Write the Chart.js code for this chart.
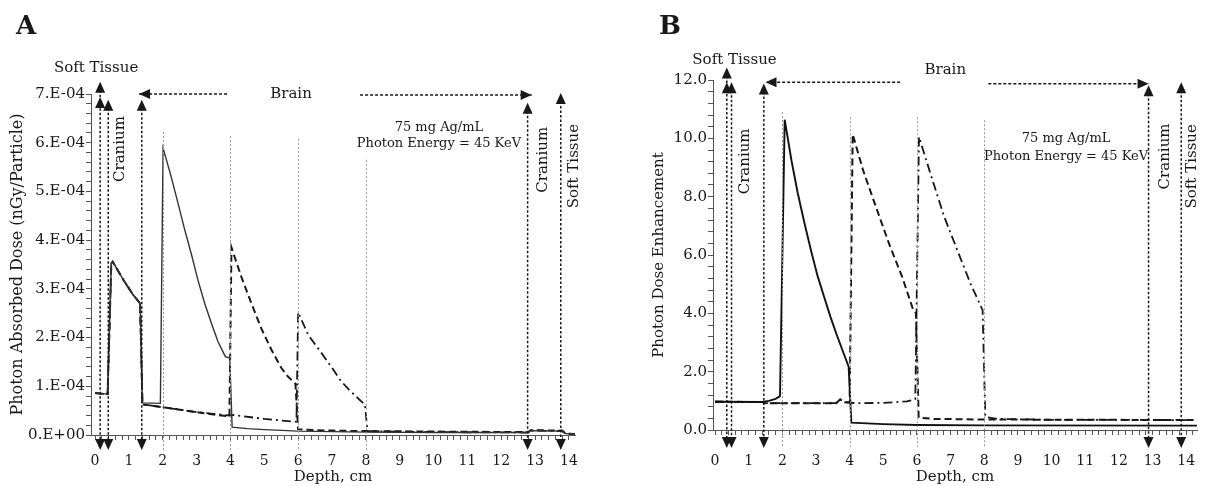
<!DOCTYPE html>
<html>
<head>
<meta charset="utf-8">
<script src="https://cdn.jsdelivr.net/npm/chart.js@4.4.1/dist/chart.umd.min.js"></script>
<style>
  html, body { margin: 0; padding: 0; background: #fff; }
  #wrap { position: relative; width: 1211px; height: 486px; overflow: hidden; }
  .panel { position: absolute; top: 0; height: 486px; }
  #panelA { left: 0; width: 605px; }
  #panelB { left: 605px; width: 606px; }
  .tag { position: absolute; top: 12px; font: bold 26px 'DejaVu Serif', serif; line-height: 26px; color: #1a1718; }
</style>
</head>
<body>
<div id="wrap">
  <div class="panel" id="panelA"><canvas id="chartA"></canvas></div>
  <div class="panel" id="panelB"><canvas id="chartB"></canvas></div>
  <div class="tag" style="left:16px">A</div>
  <div class="tag" style="left:659px">B</div>
</div>
<script>
/* Depth profiles of photon dose through a head phantom
   (soft tissue / cranium / brain), Ag nanoparticle slab at 2-4, 4-6 or 6-8 cm. */

// ---- Panel A: absorbed dose (nGy/particle) ----
const depthA_np24 = [0, 0.37, 0.48, 0.52, 0.84, 1.13, 1.31, 1.33, 1.40, 1.93, 2.01, 2.25, 2.45, 2.65, 2.85, 3.04, 3.24, 3.44, 3.63, 3.85, 3.98, 4.05, 4.5, 5.0, 6.0, 7.0, 8.0, 10.0, 12.8, 12.88, 13.8, 13.9, 14.2];
const doseA_np24  = [0.86e-4, 0.84e-4, 3.52e-4, 3.56e-4, 3.18e-4, 2.87e-4, 2.72e-4, 2.68e-4, 0.66e-4, 0.65e-4, 5.89e-4, 5.30e-4, 4.76e-4, 4.21e-4, 3.70e-4, 3.18e-4, 2.70e-4, 2.29e-4, 1.92e-4, 1.61e-4, 1.58e-4, 0.16e-4, 0.13e-4, 0.11e-4, 0.08e-4, 0.07e-4, 0.06e-4, 0.05e-4, 0.05e-4, 0.09e-4, 0.08e-4, 0.03e-4, 0.02e-4];

const depthA_np46 = [0, 0.37, 0.48, 0.52, 0.84, 1.13, 1.31, 1.33, 1.40, 2.0, 2.5, 3.0, 3.5, 3.97, 4.03, 4.32, 4.62, 4.91, 5.21, 5.50, 5.70, 5.92, 6.0, 6.5, 7.0, 8.0, 10.0, 12.8, 12.88, 13.8, 13.9, 14.2];
const doseA_np46  = [0.86e-4, 0.84e-4, 3.52e-4, 3.56e-4, 3.18e-4, 2.87e-4, 2.72e-4, 2.68e-4, 0.63e-4, 0.57e-4, 0.52e-4, 0.47e-4, 0.42e-4, 0.38e-4, 3.85e-4, 3.25e-4, 2.70e-4, 2.19e-4, 1.75e-4, 1.38e-4, 1.20e-4, 1.05e-4, 0.12e-4, 0.10e-4, 0.09e-4, 0.08e-4, 0.07e-4, 0.06e-4, 0.10e-4, 0.09e-4, 0.03e-4, 0.02e-4];

const depthA_np68 = [0, 0.37, 0.48, 0.52, 0.84, 1.13, 1.31, 1.33, 1.40, 2.0, 3.0, 3.97, 4.1, 5.0, 5.95, 6.0, 6.3, 6.65, 7.0, 7.24, 7.5, 7.88, 7.97, 8.05, 9.0, 10.0, 12.8, 12.88, 13.8, 13.9, 14.2];
const doseA_np68  = [0.86e-4, 0.84e-4, 3.52e-4, 3.56e-4, 3.18e-4, 2.87e-4, 2.72e-4, 2.68e-4, 0.63e-4, 0.57e-4, 0.47e-4, 0.40e-4, 0.41e-4, 0.33e-4, 0.27e-4, 2.52e-4, 2.05e-4, 1.72e-4, 1.38e-4, 1.13e-4, 0.93e-4, 0.68e-4, 0.64e-4, 0.08e-4, 0.07e-4, 0.06e-4, 0.05e-4, 0.09e-4, 0.08e-4, 0.03e-4, 0.02e-4];

// ---- Panel B: dose enhancement ----
const depthB_np24 = [0, 1.40, 1.60, 1.80, 1.93, 2.07, 2.27, 2.46, 2.66, 2.85, 3.04, 3.24, 3.43, 3.62, 3.82, 3.97, 4.05, 5.0, 6.0, 8.0, 14.4];
const enhB_np24   = [0.97, 0.96, 1.00, 1.07, 1.16, 10.64, 9.25, 8.11, 7.08, 6.16, 5.31, 4.57, 3.88, 3.25, 2.63, 2.17, 0.25, 0.20, 0.17, 0.16, 0.15];

const depthB_np46 = [0, 1.40, 1.50, 3.60, 3.72, 3.85, 4.00, 4.09, 4.40, 4.78, 5.17, 5.56, 5.89, 5.97, 6.05, 6.50, 8.0, 14.4];
const enhB_np46   = [0.97, 0.96, 0.92, 0.92, 1.05, 0.95, 0.95, 10.14, 8.90, 7.65, 6.39, 5.25, 4.11, 4.00, 0.42, 0.38, 0.36, 0.34];

const depthB_np68 = [0, 1.40, 1.50, 3.60, 3.72, 3.85, 4.20, 5.00, 5.70, 5.95, 6.06, 6.43, 6.81, 7.20, 7.59, 7.95, 8.03, 8.40, 10.0, 14.4];
const enhB_np68   = [0.97, 0.96, 0.92, 0.92, 1.05, 0.95, 0.92, 0.93, 0.98, 1.05, 10.05, 8.68, 7.31, 6.16, 5.02, 4.11, 0.45, 0.38, 0.35, 0.34];

// ---- Annotations (axis units) ----
const guideDepths = [2, 4, 6, 8];
const guideTopsA  = [6.22e-4, 6.14e-4, 6.08e-4, 5.65e-4];
const guideTopsB  = [10.9, 10.72, 10.72, 10.62];

const boundsA = [
  { x: 0.15, tops: [7.25e-4, 6.94e-4] },
  { x: 0.39, tops: [6.88e-4] },
  { x: 1.38, tops: [6.88e-4] },
  { x: 12.78, tops: [6.82e-4] },
  { x: 13.76, tops: [7.02e-4] },
];
const boundsB = [
  { x: 0.35, tops: [12.43, 11.92] },
  { x: 0.49, tops: [11.92] },
  { x: 1.45, tops: [11.88] },
  { x: 12.88, tops: [11.82] },
  { x: 13.85, tops: [11.92] },
];

const labelsA = [
  { t: 'Soft Tissue', x: 0.03, y: 7.54e-4 },
  { t: 'Cranium', x: 0.74, y: 5.87e-4, rot: true },
  { t: 'Brain', x: 5.79, y: 7.0e-4 },
  { t: 'Cranium', x: 13.23, y: 5.65e-4, rot: true },
  { t: 'Soft Tissue', x: 14.15, y: 5.52e-4, rot: true },
  { t: '75 mg Ag/mL', x: 10.16, y: 6.32e-4, small: true },
  { t: 'Photon Energy = 45 KeV', x: 10.16, y: 5.98e-4, small: true },
];
const labelsB = [
  { t: 'Soft Tissue', x: 0.58, y: 12.67 },
  { t: 'Cranium', x: 0.90, y: 9.21, rot: true },
  { t: 'Brain', x: 6.84, y: 12.33 },
  { t: 'Cranium', x: 13.36, y: 9.38, rot: true },
  { t: 'Soft Tissue', x: 14.17, y: 9.04, rot: true },
  { t: '75 mg Ag/mL', x: 10.43, y: 10.0, small: true },
  { t: 'Photon Energy = 45 KeV', x: 10.43, y: 9.38, small: true },
];

const brainA = [{ from: 3.9, to: 1.30, y: 7.0e-4 }, { from: 7.83, to: 12.9, y: 6.98e-4 }];
const brainB = [{ from: 5.5, to: 1.50, y: 11.92 }, { from: 8.12, to: 12.88, y: 11.87 }];

// ---- Shared defaults ----
const SERIF = "'DejaVu Serif', serif";
const INK = '#1a1718';
Chart.defaults.font.family = SERIF;
Chart.defaults.color = INK;
Chart.defaults.animation = false;

const pts = (xs, ys) => xs.map((d, i) => ({ x: d, y: ys[i] }));
const isMult = (v, step) => Math.abs(v / step - Math.round(v / step)) < 1e-6;

function arrowHead(ctx, x, y, dir) {
  const w = 5, h = 11;
  ctx.beginPath();
  ctx.moveTo(x, y);
  if (dir === 'up')    { ctx.lineTo(x - w, y + h); ctx.lineTo(x + w, y + h); }
  if (dir === 'down')  { ctx.lineTo(x - w, y - h); ctx.lineTo(x + w, y - h); }
  if (dir === 'left')  { ctx.lineTo(x + h, y - w); ctx.lineTo(x + h, y + w); }
  if (dir === 'right') { ctx.lineTo(x - h, y - w); ctx.lineTo(x - h, y + w); }
  ctx.closePath();
  ctx.fill();
}

// draws region boundaries, arrows and text, positioned through the scales
const regionMarks = {
  id: 'regionMarks',
  afterDatasetsDraw(chart, args, o) {
    const { ctx, scales: { x, y } } = chart;
    const px = v => x.getPixelForValue(v);
    const py = v => y.getPixelForValue(v);
    ctx.save();

    // grey guides at the nanoparticle slab edges
    ctx.strokeStyle = '#9a9a9a';
    ctx.lineWidth = 1;
    ctx.setLineDash([2, 2]);
    guideDepths.forEach((d, i) => {
      ctx.beginPath();
      ctx.moveTo(Math.round(px(d)) + 0.5, py(o.guideTops[i]));
      ctx.lineTo(Math.round(px(d)) + 0.5, py(o.bottom));
      ctx.stroke();
    });

    // tissue boundaries with arrows
    ctx.strokeStyle = INK;
    ctx.fillStyle = INK;
    ctx.lineWidth = 1.5;
    o.bounds.forEach(b => {
      const X = px(b.x);
      ctx.setLineDash([2.5, 2]);
      ctx.beginPath();
      ctx.moveTo(X, Math.min(...b.tops.map(py)) + 4);
      ctx.lineTo(X, py(o.bottom) - 4);
      ctx.stroke();
      ctx.setLineDash([]);
      b.tops.forEach(t => arrowHead(ctx, X, py(t), 'up'));
      arrowHead(ctx, X, py(o.bottom), 'down');
    });

    // brain extent
    o.brain.forEach(a => {
      ctx.setLineDash([3, 2]);
      ctx.beginPath();
      ctx.moveTo(px(a.from), py(a.y));
      ctx.lineTo(px(a.to), py(a.y));
      ctx.stroke();
      ctx.setLineDash([]);
      arrowHead(ctx, px(a.to), py(a.y), a.to < a.from ? 'left' : 'right');
    });

    // text
    ctx.textAlign = 'center';
    ctx.textBaseline = 'middle';
    o.labels.forEach(l => {
      ctx.font = (l.small ? '13px ' : '15px ') + SERIF;
      ctx.save();
      ctx.translate(px(l.x), py(l.y));
      if (l.rot) ctx.rotate(-Math.PI / 2);
      ctx.fillText(l.t, 0, 0);
      ctx.restore();
    });
    ctx.restore();
  }
};

function makeChart(id, cfg) {
  const line = (label, xs, ys, style) => Object.assign({
    label, data: pts(xs, ys), borderColor: INK, pointRadius: 0, tension: 0, fill: false
  }, style);

  return new Chart(document.getElementById(id), {
    type: 'line',
    data: {
      datasets: [
        line('Ag NP at 2-4 cm', cfg.series[0][0], cfg.series[0][1], { borderColor: cfg.solidColor, borderWidth: cfg.solidWidth }),
        line('Ag NP at 4-6 cm', cfg.series[1][0], cfg.series[1][1], { borderWidth: 2, borderDash: [7, 4] }),
        line('Ag NP at 6-8 cm', cfg.series[2][0], cfg.series[2][1], { borderWidth: 1.8, borderDash: [9, 4, 2, 4] }),
      ]
    },
    options: {
      responsive: true,
      maintainAspectRatio: false,
      layout: { padding: cfg.padding },
      plugins: {
        legend: { display: false },
        tooltip: { enabled: false },
        regionMarks: cfg.marks,
      },
      scales: {
        x: {
          type: 'linear',
          min: cfg.xMin, max: cfg.xMax,
          afterFit: s => { s.height = cfg.xHeight; },
          grid: { drawOnChartArea: false, tickLength: 5, tickColor: '#555' },
          border: { color: '#555', width: 1 },
          ticks: {
            stepSize: 0.2, includeBounds: false, autoSkip: false, maxRotation: 0,
            padding: cfg.xTickPad, color: INK, font: { size: 14 },
            callback: v => isMult(v, 1) ? String(Math.round(v)) : ''
          },
          title: { display: true, text: 'Depth, cm', color: INK, font: { size: 15 }, padding: { top: 0, bottom: 0 } }
        },
        y: {
          min: 0, max: cfg.yMax,
          afterFit: s => { s.width = cfg.yWidth; },
          grid: { drawOnChartArea: false, tickLength: 5, tickColor: '#555' },
          border: { color: '#555', width: 1 },
          ticks: {
            stepSize: cfg.yStep, autoSkip: false, padding: 1, color: INK, font: { size: 15 },
            callback: cfg.yLabel
          },
          title: { display: true, text: cfg.yTitle, color: INK, font: { size: cfg.yTitleSize }, padding: { top: cfg.yTitlePad, bottom: 0 } }
        }
      }
    },
    plugins: [regionMarks]
  });
}

// ---- Panel A ----
makeChart('chartA', {
  series: [[depthA_np24, doseA_np24], [depthA_np46, doseA_np46], [depthA_np68, doseA_np68]],
  solidColor: '#333', solidWidth: 1.4,
  padding: { left: 0, top: 94, right: 30, bottom: 0 },
  xMin: -0.12, xMax: 14.18, xHeight: 51, xTickPad: 13,
  yMax: 7e-4, yStep: 2e-5, yWidth: 91, yTitlePad: 8, yTitleSize: 16,
  yLabel: v => isMult(v, 1e-4) ? (Math.round(v / 1e-4) === 0 ? '0.E+00' : Math.round(v / 1e-4) + '.E-04') : '',
  yTitle: 'Photon Absorbed Dose (nGy/Particle)',
  marks: { guideTops: guideTopsA, bottom: -0.31e-4, bounds: boundsA, brain: brainA, labels: labelsA }
});

// ---- Panel B ----
makeChart('chartB', {
  series: [[depthB_np24, enhB_np24], [depthB_np46, enhB_np46], [depthB_np68, enhB_np68]],
  solidColor: '#111', solidWidth: 1.9,
  padding: { left: 0, top: 80, right: 2, bottom: 0 },
  xMin: -0.06, xMax: 14.32, xHeight: 56, xTickPad: 18,
  yMax: 12, yStep: 0.4, yWidth: 108, yTitlePad: 45, yTitleSize: 15,
  yLabel: v => isMult(v, 2) ? v.toFixed(1) : '',
  yTitle: 'Photon Dose Enhancement',
  marks: { guideTops: guideTopsB, bottom: -0.62, bounds: boundsB, brain: brainB, labels: labelsB }
});
</script>
</body>
</html>
